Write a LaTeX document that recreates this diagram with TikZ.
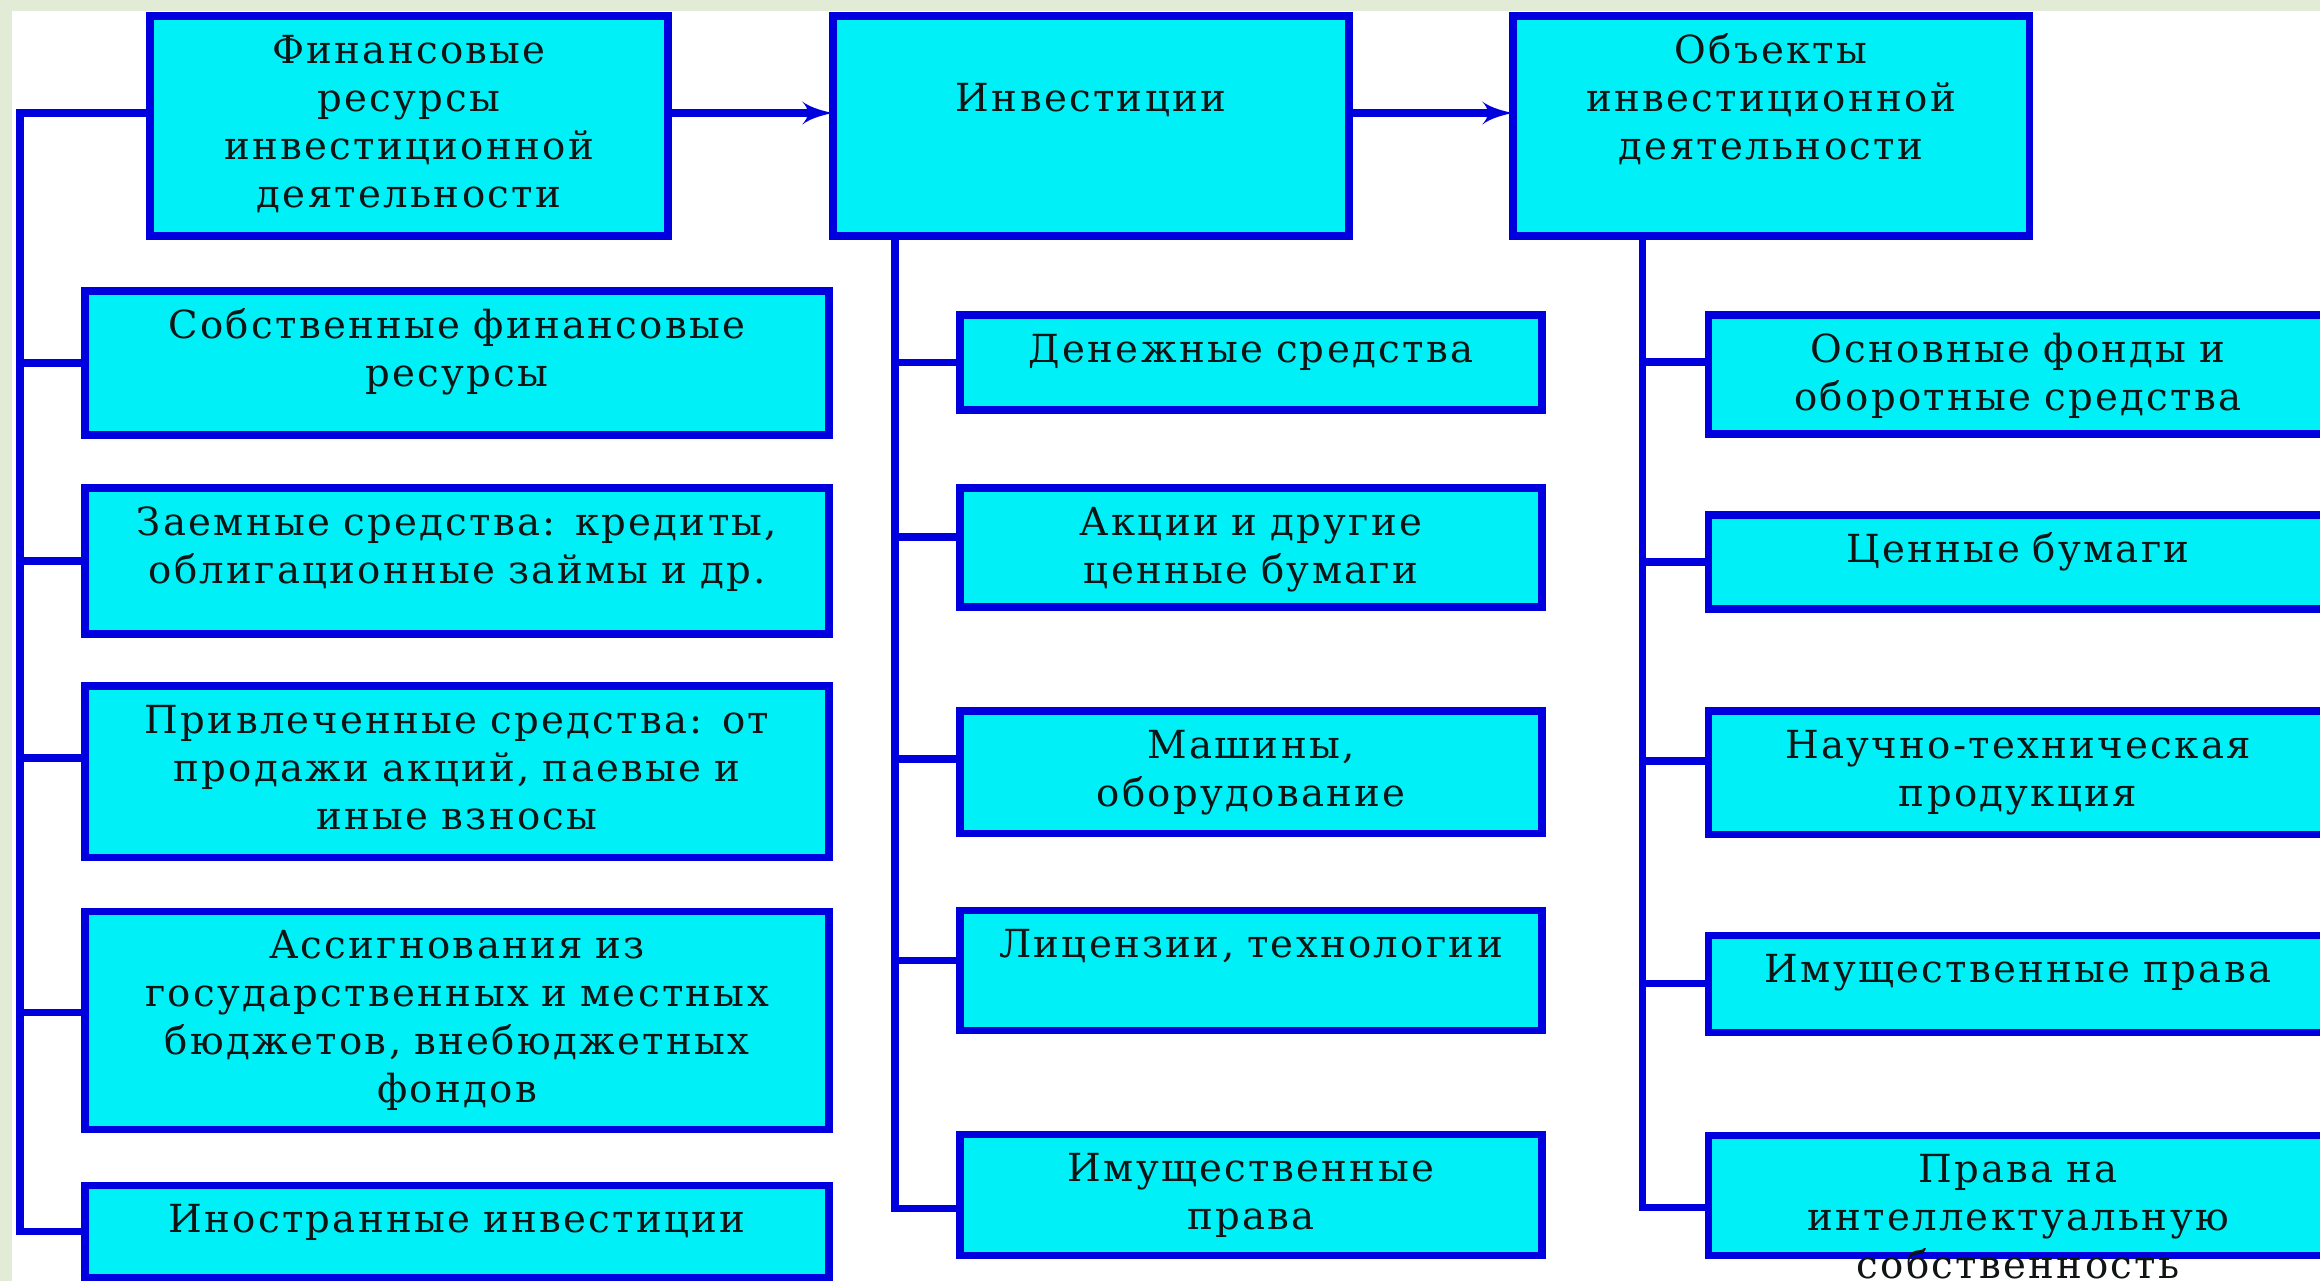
\documentclass[tikz,border=0pt]{standalone}
\usepackage{fontspec}
\setmainfont[LetterSpace=6]{DejaVu Serif}
\usetikzlibrary{arrows}
\definecolor{bggreen}{RGB}{226,235,214}
\definecolor{boxfill}{RGB}{0,240,248}
\definecolor{boxline}{RGB}{0,0,222}
\definecolor{txtcol}{RGB}{15,20,20}

\begin{document}
\begin{tikzpicture}[
    box/.style={draw=boxline, fill=boxfill, line width=2pt, inner sep=0pt, outer sep=0pt},
    txt/.style={font=\fontsize{11}{13.7}\selectfont, text=txtcol, align=center,
                text width=6.8cm, inner sep=0pt, anchor=base},
    link/.style={draw=boxline, line width=2pt},
    arr/.style={link, -latex'}]
    \useasboundingbox (0,0) rectangle (23.2,-12.81);
    \clip (0,0) rectangle (23.2,-12.81);
    \fill[bggreen] (0,0) rectangle (23.2,-12.81);
    \fill[white] (0.12,-0.11) rectangle (23.2,-12.81);

    % top row
    \node[box, minimum width=5.18cm, minimum height=2.20cm] (fin) at (4.09,-1.26) {};
    \node[box, minimum width=5.16cm, minimum height=2.20cm] (inv) at (10.91,-1.26) {};
    \node[box, minimum width=5.16cm, minimum height=2.20cm] (obj) at (17.71,-1.26) {};

    % sources
    \node[box, minimum width=7.44cm, minimum height=1.44cm] (src1) at (4.57,-3.63) {};
    \node[box, minimum width=7.44cm, minimum height=1.46cm] (src2) at (4.57,-5.61) {};
    \node[box, minimum width=7.44cm, minimum height=1.71cm] (src3) at (4.57,-7.715) {};
    \node[box, minimum width=7.44cm, minimum height=2.18cm] (src4) at (4.57,-10.20) {};
    \node[box, minimum width=7.44cm, minimum height=0.92cm] (src5) at (4.57,-12.31) {};

    % forms of investment
    \node[box, minimum width=5.82cm, minimum height=0.95cm] (frm1) at (12.51,-3.625) {};
    \node[box, minimum width=5.82cm, minimum height=1.19cm] (frm2) at (12.51,-5.475) {};
    \node[box, minimum width=5.82cm, minimum height=1.22cm] (frm3) at (12.51,-7.72) {};
    \node[box, minimum width=5.82cm, minimum height=1.20cm] (frm4) at (12.51,-9.70) {};
    \node[box, minimum width=5.82cm, minimum height=1.21cm] (frm5) at (12.51,-11.945) {};

    % objects
    \node[box, minimum width=6.20cm, minimum height=1.19cm] (ob1) at (20.18,-3.745) {};
    \node[box, minimum width=6.20cm, minimum height=0.94cm] (ob2) at (20.18,-5.62) {};
    \node[box, minimum width=6.20cm, minimum height=1.23cm] (ob3) at (20.18,-7.725) {};
    \node[box, minimum width=6.20cm, minimum height=0.97cm] (ob4) at (20.18,-9.835) {};
    \node[box, minimum width=6.20cm, minimum height=1.20cm] (ob5) at (20.18,-11.95) {};

    % texts
    \node[txt] (fin-t) at ([yshift=-0.47cm]fin.north) {Финансовые\\ресурсы\\инвестиционной\\деятельности};
    \node[txt] (inv-t) at ([yshift=-0.95cm]inv.north) {Инвестиции};
    \node[txt] (obj-t) at ([yshift=-0.47cm]obj.north) {Объекты\\инвестиционной\\деятельности};

    \node[txt] (src1-t) at ([yshift=-0.47cm]src1.north) {Собственные финансовые\\ресурсы};
    \node[txt] (src2-t) at ([yshift=-0.47cm]src2.north) {Заемные средства: кредиты,\\облигационные займы и др.};
    \node[txt] (src3-t) at ([yshift=-0.47cm]src3.north) {Привлеченные средства: от\\продажи акций, паевые и\\иные взносы};
    \node[txt] (src4-t) at ([yshift=-0.47cm]src4.north) {Ассигнования из\\государственных и местных\\бюджетов, внебюджетных\\фондов};
    \node[txt] (src5-t) at ([yshift=-0.47cm]src5.north) {Иностранные инвестиции};

    \node[txt] (frm1-t) at ([yshift=-0.47cm]frm1.north) {Денежные средства};
    \node[txt] (frm2-t) at ([yshift=-0.47cm]frm2.north) {Акции и другие\\ценные бумаги};
    \node[txt] (frm3-t) at ([yshift=-0.47cm]frm3.north) {Машины,\\оборудование};
    \node[txt] (frm4-t) at ([yshift=-0.47cm]frm4.north) {Лицензии, технологии};
    \node[txt] (frm5-t) at ([yshift=-0.47cm]frm5.north) {Имущественные\\права};

    \node[txt] (ob1-t) at ([yshift=-0.47cm]ob1.north) {Основные фонды и\\оборотные средства};
    \node[txt] (ob2-t) at ([yshift=-0.47cm]ob2.north) {Ценные бумаги};
    \node[txt] (ob3-t) at ([yshift=-0.47cm]ob3.north) {Научно-техническая\\продукция};
    \node[txt] (ob4-t) at ([yshift=-0.47cm]ob4.north) {Имущественные права};
    \node[txt] (ob5-t) at ([yshift=-0.47cm]ob5.north) {Права на\\интеллектуальную\\собственность};

    % connectors
    \coordinate (row) at (0,-1.13);
    \coordinate (lft) at (0.20,0);
    \coordinate (mid) at (8.95,0);
    \coordinate (rgt) at (16.42,0);

    \draw[arr] (fin.east |- row) -- (inv.west |- row);
    \draw[arr] (inv.east |- row) -- (obj.west |- row);

    \draw[link] (fin.west |- row) -| (lft |- src5.west) -- (src5.west);
    \draw[link] (src1.west) -- (src1.west -| lft);
    \draw[link] (src2.west) -- (src2.west -| lft);
    \draw[link] ([yshift=1.35mm]src3.west) coordinate (s3) -- (s3 -| lft);
    \draw[link] ([yshift=0.8mm]src4.west) coordinate (s4) -- (s4 -| lft);

    \draw[link] ([yshift=-1.35mm]frm5.west) coordinate (f5) -| (inv.south -| mid);
    \draw[link] (frm1.west) -- (frm1.west -| mid);
    \draw[link] ([yshift=1.05mm]frm2.west) coordinate (f2) -- (f2 -| mid);
    \draw[link] ([yshift=1.3mm]frm3.west) coordinate (f3) -- (f3 -| mid);
    \draw[link] ([yshift=1.0mm]frm4.west) coordinate (f4) -- (f4 -| mid);

    \draw[link] ([yshift=-1.2mm]ob5.west) coordinate (o5) -| (obj.south -| rgt);
    \draw[link] ([yshift=1.25mm]ob1.west) coordinate (o1) -- (o1 -| rgt);
    \draw[link] (ob2.west) -- (ob2.west -| rgt);
    \draw[link] ([yshift=1.15mm]ob3.west) coordinate (o3) -- (o3 -| rgt);
    \draw[link] (ob4.west) -- (ob4.west -| rgt);
\end{tikzpicture}
\end{document}
